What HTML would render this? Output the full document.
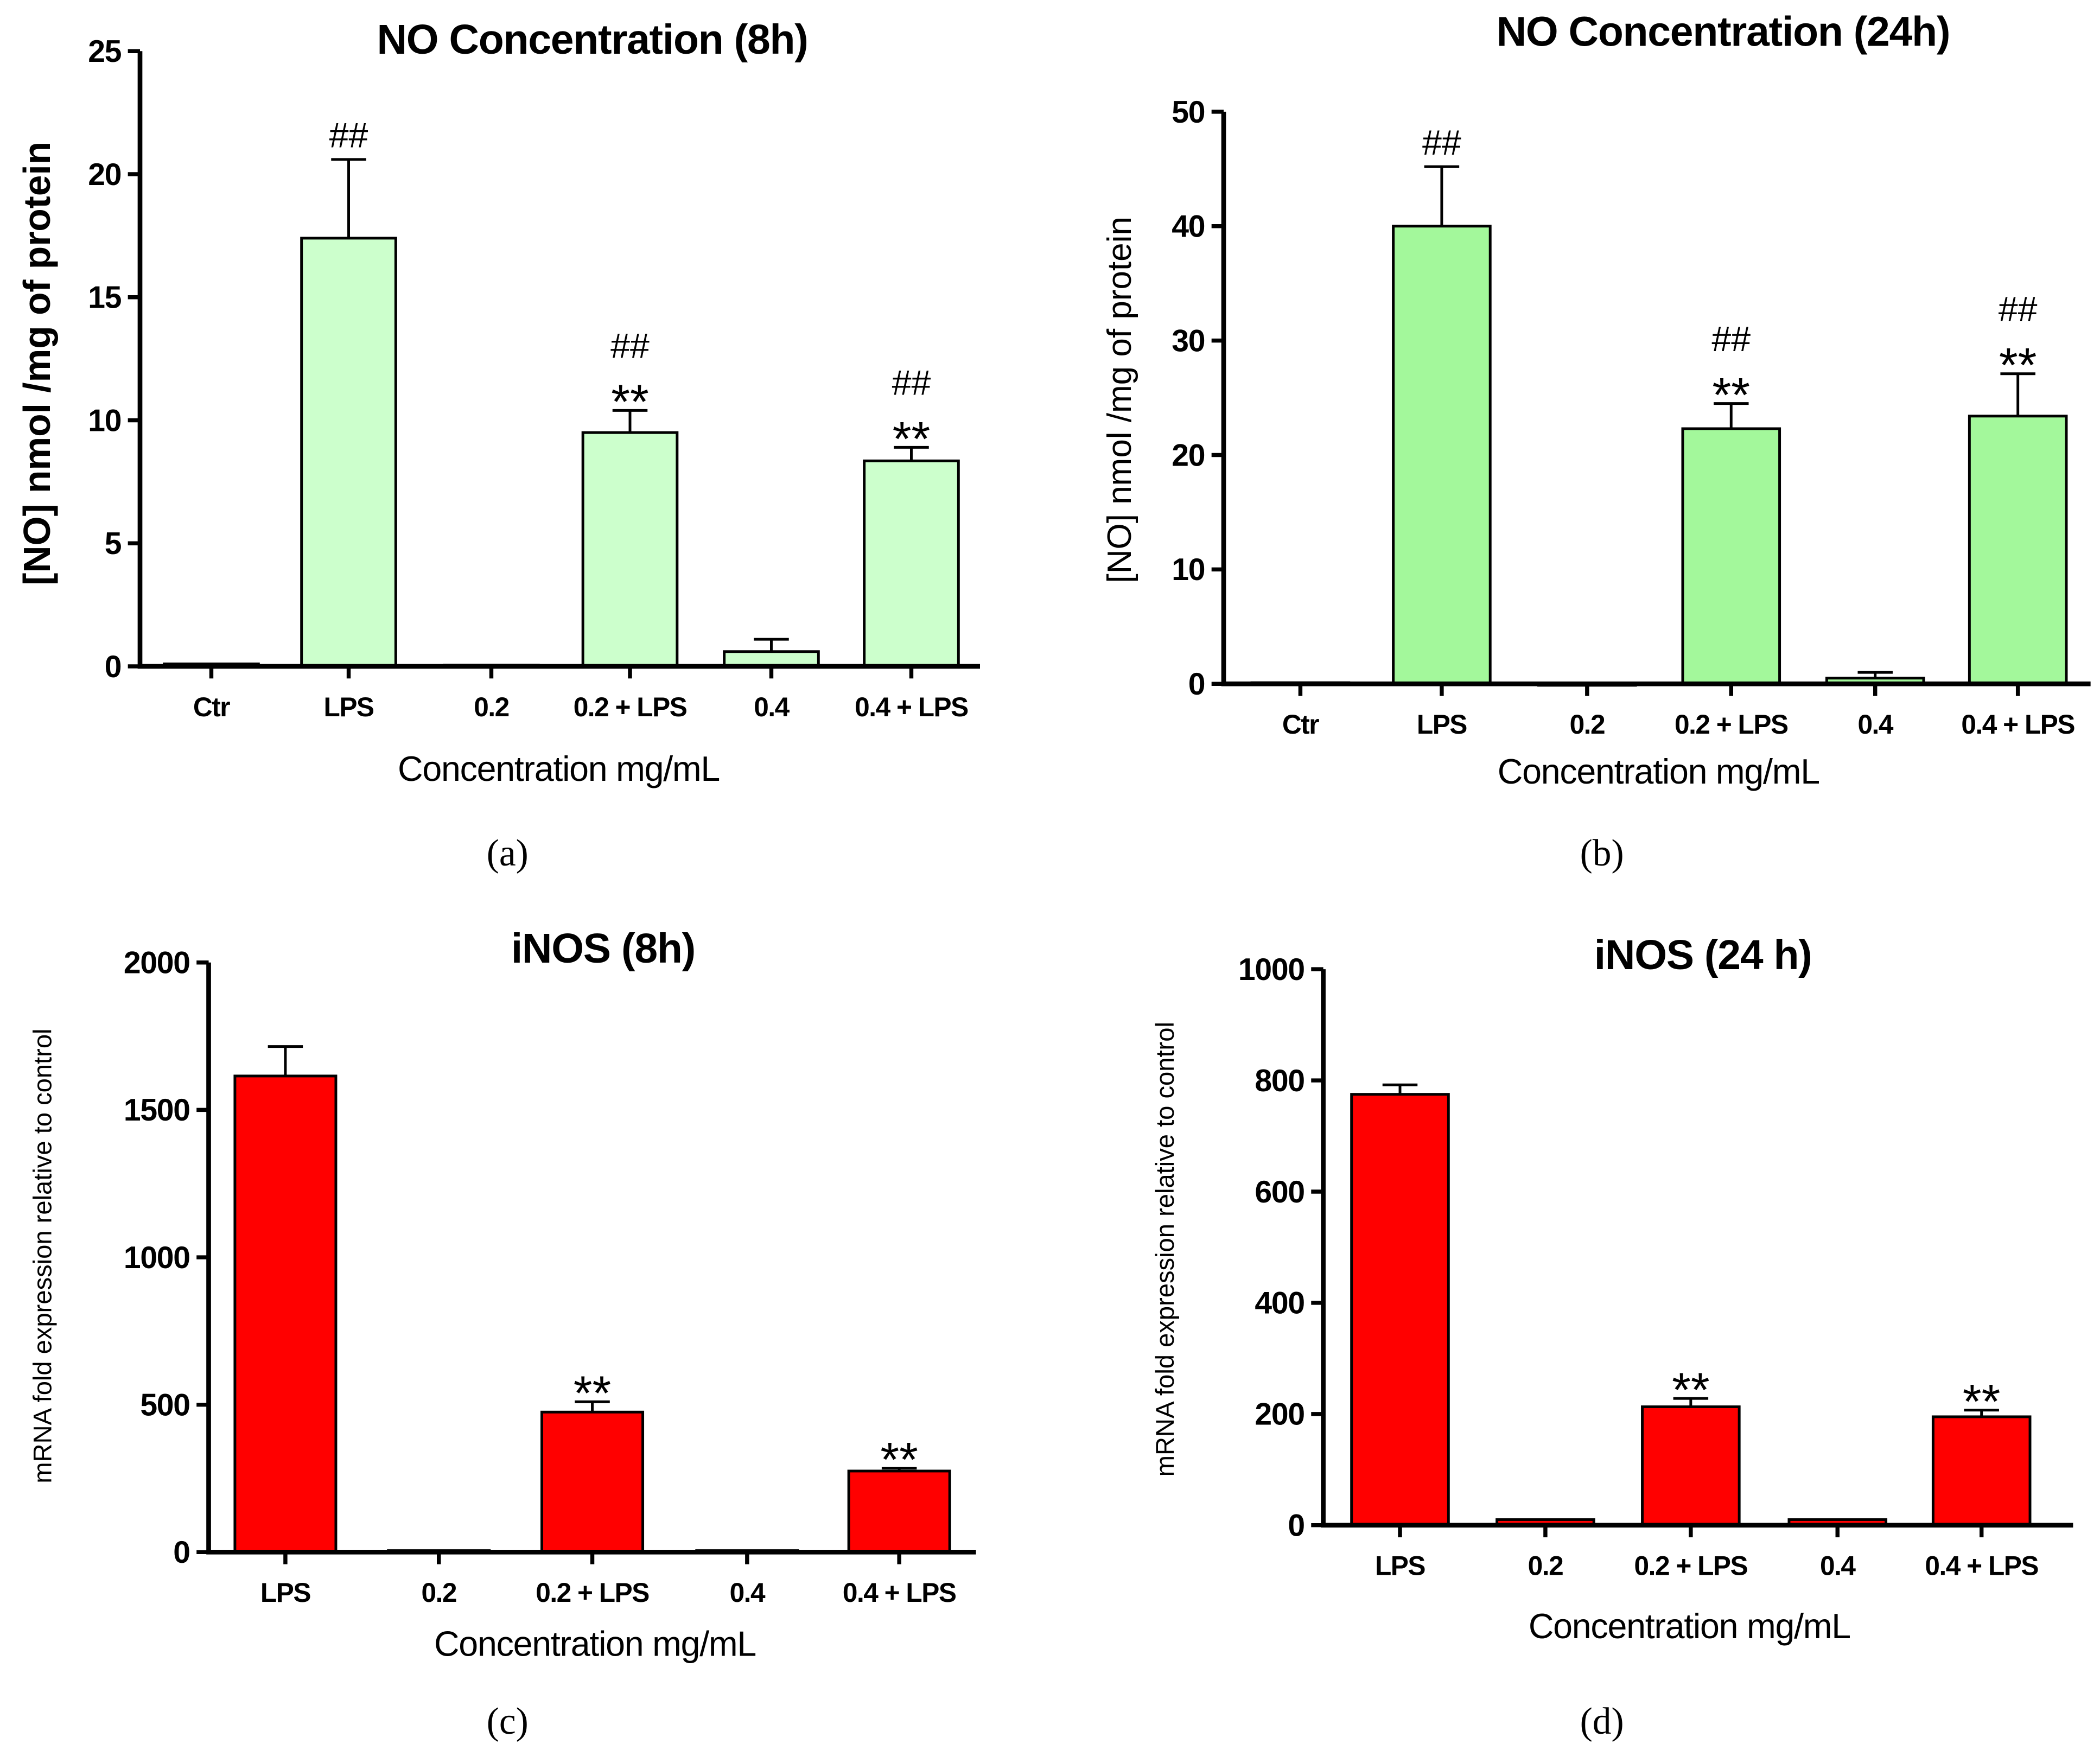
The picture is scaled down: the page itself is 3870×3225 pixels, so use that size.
<!DOCTYPE html>
<html><head><meta charset="utf-8"><style>
html,body{margin:0;padding:0;background:#fff;}
svg{display:block;}
text{font-family:"Liberation Sans Narrow","Liberation Sans",sans-serif;fill:#000;}
.tk{font-weight:bold;font-size:23px;letter-spacing:-0.5px;}
.xt{font-weight:bold;font-size:20px;letter-spacing:-0.6px;}
.ttl{font-weight:bold;font-size:31px;letter-spacing:-0.5px;}
.ann{font-family:"Liberation Sans",sans-serif;font-size:26px;}
.star{font-family:"Liberation Sans",sans-serif;font-size:36px;}
.cap{font-family:"Liberation Serif",serif;font-size:28px;}
.xl{font-size:26px;letter-spacing:-0.5px;}
</style></head><body>
<svg id="fig" width="3870" height="3225" viewBox="0 0 1560 1300" preserveAspectRatio="none" xmlns="http://www.w3.org/2000/svg"></svg>
<script>
const catsA = ["Ctr","LPS","0.2","0.2 + LPS","0.4","0.4 + LPS"];
const valsA = [0.1,17.4,0.05,9.5,0.6,8.35];
const errA = [0.15,20.6,0.05,10.4,1.1,8.9];
const annA = [[],["##"],[],["##","**"],[],["##","**"]];
const ticksA = [0,5,10,15,20,25];

const catsB = ["Ctr","LPS","0.2","0.2 + LPS","0.4","0.4 + LPS"];
const valsB = [0.1,40,0.05,22.3,0.5,23.4];
const errB = [0.15,45.2,0.05,24.5,1.0,27.1];
const annB = [[],["##"],[],["##","**"],[],["##","**"]];
const ticksB = [0,10,20,30,40,50];

const catsC = ["LPS","0.2","0.2 + LPS","0.4","0.4 + LPS"];
const valsC = [1615,5,475,5,275];
const errC = [1715,5,510,5,285];
const annC = [[],[],["**"],[],["**"]];
const ticksC = [0,500,1000,1500,2000];

const catsD = ["LPS","0.2","0.2 + LPS","0.4","0.4 + LPS"];
const valsD = [775,10,213,10,195];
const errD = [792,10,228,10,207];
const annD = [[],[],["**"],[],["**"]];
const ticksD = [0,200,400,600,800,1000];

const NS="http://www.w3.org/2000/svg";
const svg=document.getElementById('fig');
function mk(tag,attrs,parent,txt){const e=document.createElementNS(NS,tag);for(const k in attrs)e.setAttribute(k,attrs[k]);if(txt!==undefined)e.textContent=txt;(parent||svg).appendChild(e);return e;}

function chart(o){
  const g=mk('g',{});
  
  
  const ymax=o.ticks[o.ticks.length-1];
  const y=v=>o.y0-(v/ymax)*(o.y0-o.yTop);
  o.cats.forEach((c,i)=>{
    const cx=o.xs[i];
    const top=y(o.vals[i]);
    const b=mk('rect',{x:cx-o.bw/2,y:top,width:o.bw,height:Math.max(o.y0-top,1.5),fill:o.color,stroke:'#000','stroke-width':2},g);
    
    
    if(o.err[i]>o.vals[i]+(ymax*0.004)){
      const ey=y(o.err[i]);
      const e=mk('path',{d:`M${cx} ${top}V${ey}M${cx-13} ${ey}H${cx+13}`,stroke:'#000','stroke-width':2,fill:'none'},g);
      
      
    }
    const ann=o.ann[i];
    let ay=y(o.err[i]);
    for(let k=ann.length-1;k>=0;k--){
      let t;
      if(ann[k]=="**"){
        t=mk('text',{x:cx,y:ay+6,'text-anchor':'middle',class:'star'},g,'**');
        ay-=30;
      }else{
        t=mk('text',{x:cx,y:ay-9,'text-anchor':'middle',class:'ann'},g,'##');
        ay-=30;
      }
      
      
    }
    const xt=mk('text',{x:cx,y:o.y0+37,'text-anchor':'middle',class:'xt'},g,c);
    
    
    mk('line',{x1:cx,y1:o.y0,x2:cx,y2:o.y0+9,stroke:'#000','stroke-width':3},g);
  });
  const ax=mk('path',{d:`M${o.x0} ${o.yTop}V${o.y0}H${o.x1}`,stroke:'#000','stroke-width':3.5,fill:'none'},g);
  
  
  o.ticks.forEach(t=>{
    const ty=y(t);
    mk('line',{x1:o.x0-9,y1:ty,x2:o.x0,y2:ty,stroke:'#000','stroke-width':3},g);
    const tl=mk('text',{x:o.x0-14,y:ty+8,'text-anchor':'end',class:'tk'},g,String(t));
    
    
  });
  const ti=mk('text',{x:o.tx,y:o.ty,'text-anchor':'middle',class:'ttl'},g,o.title);
  
  
  const yl=mk('text',{x:0,y:0,'text-anchor':'middle',transform:`translate(${o.ylx},${o.yly}) rotate(-90)`,style:o.ylStyle},g,o.ylabel);
  
  
  const xl=mk('text',{x:o.xlx,y:o.xly,'text-anchor':'middle',class:'xl'},g,'Concentration mg/mL');
  
  
  const cp=mk('text',{x:o.cx,y:o.cy,'text-anchor':'middle',class:'cap'},g,o.cap);
  
  
}

chart({name:'chart-no-8h',cats:catsA,vals:valsA,err:errA,ann:annA,ticks:ticksA,color:'#ccffcc',
  x0:104,x1:728,yTop:38,y0:495,xs:[157,259,365,468,573,677],bw:70,
  title:'NO Concentration (8h)',tx:440,ty:40,ylabel:'[NO] nmol /mg of protein',ylx:37,yly:270,
  ylStyle:'font-weight:bold;font-size:28px;font-family:"Liberation Sans",sans-serif',xlx:415,xly:580,cap:'(a)',cx:377,cy:643});
chart({name:'chart-no-24h',cats:catsB,vals:valsB,err:errB,ann:annB,ticks:ticksB,color:'#a3f89b',
  x0:909,x1:1553,yTop:83,y0:508,xs:[966,1071,1179,1286,1393,1499],bw:72,
  title:'NO Concentration  (24h)',tx:1280,ty:34,ylabel:'[NO] nmol /mg of protein',ylx:840,yly:297,
  ylStyle:'font-size:25px;font-family:"Liberation Sans",sans-serif',xlx:1232,xly:582,cap:'(b)',cx:1190,cy:643});
chart({name:'chart-inos-8h',cats:catsC,vals:valsC,err:errC,ann:annC,ticks:ticksC,color:'#ff0000',
  x0:155,x1:725,yTop:715,y0:1153,xs:[212,326,440,555,668],bw:75,
  title:'iNOS (8h)',tx:448,ty:715,ylabel:'mRNA  fold expression relative to control',ylx:38,yly:933,
  ylStyle:'font-size:19px;font-family:"Liberation Sans",sans-serif',xlx:442,xly:1230,cap:'(c)',cx:377,cy:1288});
chart({name:'chart-inos-24h',cats:catsD,vals:valsD,err:errD,ann:annD,ticks:ticksD,color:'#ff0000',
  x0:983,x1:1540,yTop:720,y0:1133,xs:[1040,1148,1256,1365,1472],bw:72,
  title:'iNOS (24 h)',tx:1265,ty:720,ylabel:'mRNA  fold expression relative to control',ylx:872,yly:928,
  ylStyle:'font-size:19px;font-family:"Liberation Sans",sans-serif',xlx:1255,xly:1217,cap:'(d)',cx:1190,cy:1288});
</script>
</body></html>
